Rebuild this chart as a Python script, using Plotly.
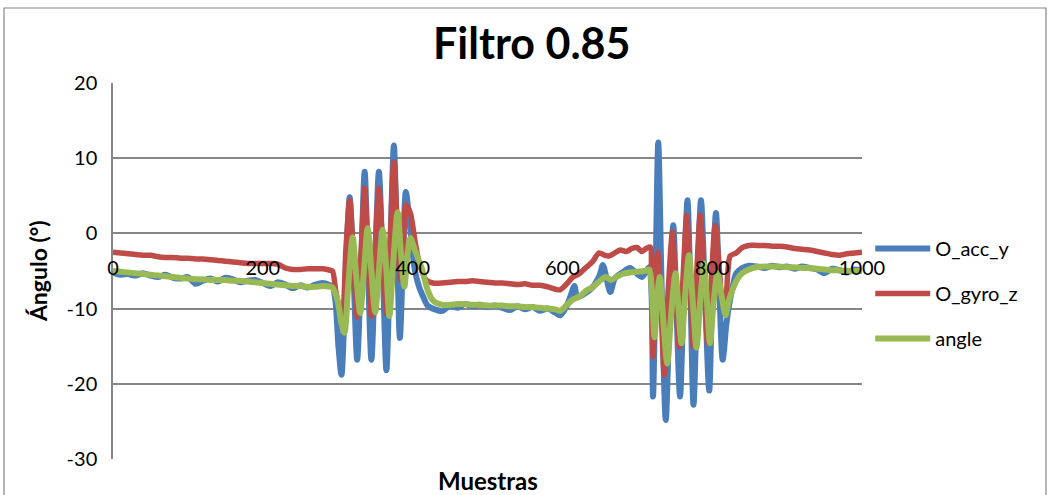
import plotly.graph_objects as go

# --- O_acc_y -------------------------------------------------------------
acc_x = [0, 10, 20, 30, 40, 50, 60, 70, 80, 90, 100, 110, 120, 130, 140, 150, 160, 170, 180, 190,
         200, 210, 220, 230, 240, 250, 260, 270, 280, 290,
         293, 297, 301, 305, 310, 316, 321, 326, 331, 336, 340, 345, 350, 355, 360, 365, 370, 375,
         379, 383, 387, 391, 397, 403, 409, 414, 420, 427,
         440, 450, 460, 470, 480, 490, 500, 510, 520, 530, 540, 550, 560, 570, 580, 590, 597, 605,
         612, 616, 620, 630, 640, 650, 654, 660, 664, 670, 680, 690, 700, 706, 712, 716,
         719, 721, 724, 728, 732, 738, 743, 748, 752, 757, 762, 767, 771, 775, 780, 785, 790, 796,
         800, 805, 809, 814, 819, 823, 828, 832, 840, 849,
         860, 870, 880, 890, 900, 910, 920, 930, 940, 950, 960, 970, 980, 990, 1000]
acc_y = [-5.2, -5.5, -5.4, -5.6, -5.3, -5.6, -5.8, -5.5, -5.9, -6.0, -5.8, -6.7, -6.3, -6.0, -6.4,
         -5.9, -6.1, -6.5, -6.3, -6.2, -6.6, -7.0, -6.5, -6.8, -7.3, -6.9, -7.2, -6.8, -6.6, -6.9,
         -7.0, -9.0, -15.0, -18.8, -8.0, 4.8, -5.0, -16.8, -5.0, 8.2, -3.0, -16.8, -4.0, 8.2, -4.0,
         -18.2, -3.0, 11.7, -1.0, -13.9, -4.0, 5.5, 0.4, -4.9, -7.2, -8.4, -9.6, -10.0,
         -10.3, -9.6, -9.9, -9.4, -9.7, -9.5, -9.8, -9.6, -9.9, -10.2, -9.7, -10.1, -9.8, -10.3,
         -10.0, -10.5, -10.9, -9.8, -8.0, -7.0, -8.5, -8.0, -7.2, -5.5, -4.2, -6.5, -7.8, -6.0,
         -5.2, -4.6, -5.4, -5.8, -5.0, -4.5,
         -8.0, -21.7, -8.0, 12.1, -5.0, -24.8, -10.0, 1.1, -9.0, -21.7, -8.0, 4.4, -8.0, -22.8,
         -8.0, 4.4, -7.0, -20.9, -8.0, 2.7, -6.0, -16.8, -12.0, -9.3, -6.8, -5.3, -4.6, -4.3,
         -4.4, -4.6, -4.3, -4.5, -4.4, -4.7, -4.4, -4.6, -4.8, -5.3, -4.7, -4.9, -5.2, -4.8, -5.0]

# --- O_gyro_z ------------------------------------------------------------
gyro_x = [0, 10, 20, 30, 40, 50, 60, 70, 80, 90, 100, 110, 120, 130, 140, 150, 160, 170, 180, 190,
          200, 210, 220, 230, 240, 250, 260, 270, 280, 290,
          293, 298, 306, 311, 316, 321, 326, 331, 336, 340, 345, 350, 355, 360, 365, 370, 375, 380,
          384, 388, 391, 397, 403, 409, 418, 427,
          440, 450, 460, 470, 480, 490, 500, 510, 520, 530, 540, 550, 560, 570, 580, 590, 597, 605,
          614, 622, 632, 640, 649, 656, 662, 670, 677, 685, 693, 700, 706, 712, 717,
          719, 721, 724, 727, 731, 736, 741, 747, 751, 756, 761, 766, 770, 775, 779, 784, 789, 794,
          799, 804, 809, 813, 817, 821, 824, 832, 840, 849,
          860, 870, 880, 890, 900, 910, 920, 930, 940, 950, 960, 970, 980, 990, 1000]
gyro_z = [-2.5, -2.6, -2.7, -2.8, -2.9, -2.9, -3.1, -3.2, -3.2, -3.3, -3.3, -3.4, -3.4, -3.5, -3.6,
          -3.7, -3.8, -3.9, -4.0, -4.0, -4.0, -4.0, -4.1, -4.6, -4.8, -4.8, -4.7, -4.7, -4.7, -4.9,
          -5.0, -8.0, -11.1, -2.0, 4.4, -3.0, -11.1, -3.0, 6.0, -2.0, -11.0, -2.0, 6.0, -2.0, -10.6,
          -1.0, 9.5, 0.0, -6.2, -1.0, 3.8, 2.7, -0.9, -4.0, -6.2, -6.6,
          -6.6, -6.5, -6.4, -6.4, -6.3, -6.4, -6.5, -6.6, -6.6, -6.7, -6.8, -6.7, -6.9, -6.9, -7.1,
          -7.4, -7.5, -6.8, -5.8, -5.4, -4.5, -3.8, -2.6, -2.9, -3.0, -2.6, -2.2, -2.4, -2.0, -1.9,
          -2.4, -2.0, -1.8,
          -5.0, -16.4, -8.0, -2.5, -8.0, -18.8, -8.0, 0.2, -7.0, -15.1, -6.0, 2.4, -6.0, -15.1,
          -6.0, 2.4, -6.0, -14.6, -6.0, 1.1, -4.0, -9.0, -10.4, -5.0, -3.0, -2.6, -1.9, -1.6,
          -1.6, -1.6, -1.7, -1.7, -1.8, -2.0, -2.1, -2.2, -2.4, -2.6, -2.8, -2.9, -2.7, -2.6, -2.5]

# --- angle (complementary filter output) ---------------------------------
angle_x = [0, 10, 20, 30, 40, 50, 60, 70, 80, 90, 100, 110, 120, 130, 140, 150, 160, 170, 180, 190,
           200, 210, 220, 230, 240, 250, 260, 270, 280, 290,
           293, 300, 305, 309, 314, 320, 325, 330, 335, 340, 345, 350, 355, 360, 365, 369, 374, 380,
           384, 389, 393, 397, 403, 413, 420, 427,
           440, 450, 460, 470, 480, 490, 500, 510, 520, 530, 540, 550, 560, 570, 580, 590, 597, 605,
           614, 624, 632, 640, 650, 658, 665, 672, 680, 690, 700, 710, 716,
           719, 723, 727, 730, 735, 740, 745, 751, 755, 759, 764, 769, 774, 779, 784, 789, 793, 797,
           802, 807, 812, 818, 822, 827, 834, 840, 849, 858,
           870, 880, 890, 900, 910, 920, 930, 940, 950, 960, 970, 980, 990, 1000]
angle = [-5.0, -5.1, -5.2, -5.3, -5.4, -5.5, -5.6, -5.7, -5.8, -5.9, -6.0, -6.1, -6.1, -6.2, -6.2,
         -6.2, -6.3, -6.3, -6.4, -6.5, -6.6, -6.7, -6.8, -6.9, -7.0, -7.0, -7.1, -7.1, -7.0, -7.1,
         -7.2, -9.0, -12.0, -13.2, -7.0, -0.5, -6.0, -10.6, -5.0, 0.7, -5.0, -10.5, -5.0, 0.5,
         -5.0, -11.0, -4.0, 2.8, -2.0, -7.1, -3.0, -0.6, -2.2, -4.9, -7.5, -8.9,
         -9.5, -9.5, -9.4, -9.4, -9.5, -9.5, -9.6, -9.6, -9.6, -9.7, -9.7, -9.8, -9.8, -9.9, -10.0,
         -10.1, -10.3, -9.6, -8.8, -8.3, -7.6, -7.2, -6.3, -5.8, -6.2, -5.8, -5.4, -5.2, -5.1,
         -5.0, -4.8,
         -7.0, -13.8, -8.0, -5.8, -12.0, -17.3, -11.0, -5.3, -10.0, -14.6, -8.0, -2.9, -9.0, -15.2,
         -9.0, -4.0, -9.0, -14.6, -9.0, -5.3, -8.0, -10.9, -9.0, -7.5, -6.0, -5.3, -4.8, -4.5,
         -4.4, -4.4, -4.4, -4.5, -4.5, -4.6, -4.6, -4.7, -4.8, -4.9, -4.9, -5.0, -5.0, -5.0]

y_ticks = [-30, -20, -10, 0, 10, 20]
x_ticks = [0, 200, 400, 600, 800, 1000]

FONT = "Lato"
GRID = "#868686"

fig = go.Figure()
series = [
    ("O_acc_y", acc_x, acc_y, "#4A7EBB", 6),
    ("O_gyro_z", gyro_x, gyro_z, "#BE4B48", 5.5),
    ("angle", angle_x, angle, "#98B954", 6),
]
for name, xs, ys, color, w in series:
    fig.add_trace(go.Scatter(
        x=xs, y=ys, name=name, mode="lines", legendgroup=name,
        line=dict(color=color, width=w, shape="spline", smoothing=0.8),
    ))

# position of y = 0 inside the plotting domain, where the x axis crosses
x_axis_pos = (0 - y_ticks[0]) / (y_ticks[-1] - y_ticks[0])

fig.update_layout(
    width=1050, height=495,
    margin=dict(l=113, r=188, t=83, b=36),
    paper_bgcolor="white", plot_bgcolor="white",
    font=dict(family=FONT, color="black", size=20),
    showlegend=True,
    legend=dict(x=1.011, y=0.44, xanchor="left", yanchor="middle",
                font=dict(family=FONT, size=20), tracegroupgap=16, itemwidth=55,
                traceorder="grouped", bgcolor="rgba(0,0,0,0)"),
    xaxis=dict(range=[0, 1000], tickvals=x_ticks, ticktext=[str(v) for v in x_ticks],
               showgrid=False, zeroline=False, showline=False,
               anchor="free", position=x_axis_pos, ticks="",
               ticklabelstandoff=21, tickfont=dict(family=FONT, size=20)),
    yaxis=dict(range=[-30, 20], tickvals=y_ticks, ticktext=[str(v) for v in y_ticks],
               showgrid=True, gridcolor=GRID, gridwidth=1.5,
               zeroline=False, showline=True, linecolor=GRID, linewidth=1.5, ticks="",
               ticklabelstandoff=10, tickfont=dict(family=FONT, size=20)),
    annotations=[
        dict(text="<b>Filtro 0.85</b>", xref="paper", yref="paper", x=0.56, y=1.109,
             showarrow=False, font=dict(family=FONT, size=43), xanchor="center", yanchor="middle"),
        dict(text="<b>Ángulo (°)</b>", xref="paper", yref="paper", x=-0.1, y=0.5, textangle=-90,
             showarrow=False, font=dict(family=FONT, size=23), xanchor="center", yanchor="middle"),
        dict(text="<b>Muestras</b>", xref="paper", yref="paper", x=0.5, y=-0.056,
             showarrow=False, font=dict(family=FONT, size=24), xanchor="center", yanchor="middle"),
    ],
    shapes=[
        dict(type="rect", xref="paper", yref="paper", x0=-0.1455, x1=1.2457, y0=-0.2, y1=1.1995,
             line=dict(color=GRID, width=1.2), fillcolor="rgba(0,0,0,0)", layer="below"),
    ],
)

fig.write_html("out.html")
